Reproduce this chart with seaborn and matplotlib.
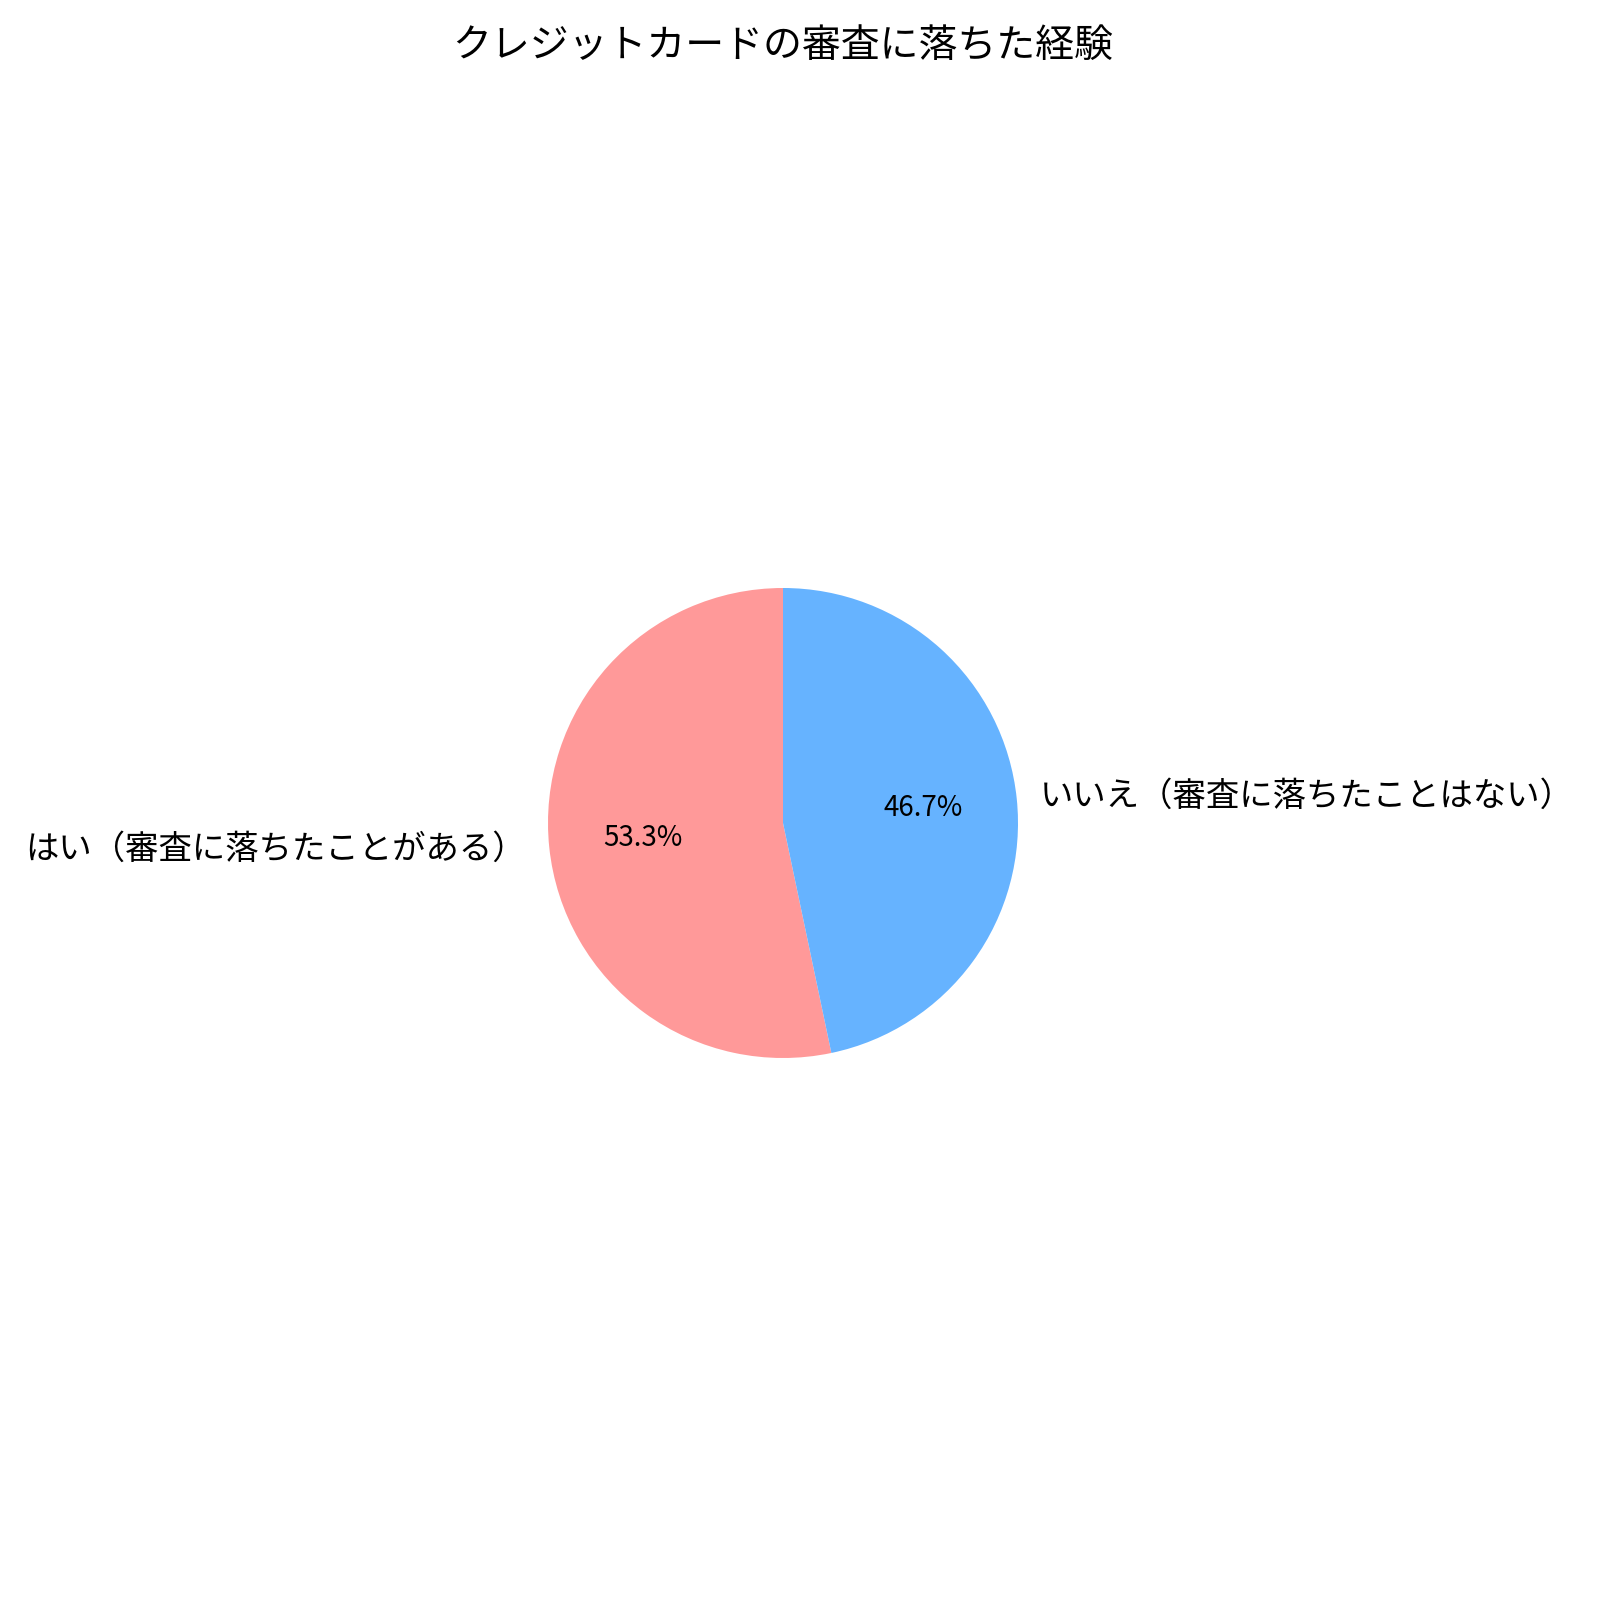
import matplotlib
matplotlib.use("Agg")
import matplotlib.pyplot as plt
import seaborn as sns

sns.set_theme(style="white")
plt.rcParams['font.family'] = ['Noto Sans CJK JP', 'DejaVu Sans']
plt.rcParams['text.color'] = 'black'

labels = ["はい（審査に落ちたことがある）", "いいえ（審査に落ちたことはない）"]
values = [53.3, 46.7]
colors = ["#ff9999", "#66b3ff"]
title = "クレジットカードの審査に落ちた経験"

fig = plt.figure(figsize=(8, 8), dpi=200)
ax = fig.add_axes([0, 0, 1, 1])
ax.pie(values, labels=labels, colors=colors, autopct="%1.1f%%", startangle=90,
       wedgeprops={"linewidth": 0, "edgecolor": "none"},
       textprops={"fontsize": 12, "color": "black"})
for t in ax.texts:
    if t.get_text().endswith("%"):
        t.set_fontsize(10)
cx, cy, r = 783, 823, 235
W = H = 1600
ax.set_xlim(-cx / r, (W - cx) / r)
ax.set_ylim(-(H - cy) / r, cy / r)
ax.axis("off")
fig.suptitle(title, x=cx / W, y=1 - 46 / H, va="center", fontsize=14)
fig.savefig("out.png", dpi=200)
